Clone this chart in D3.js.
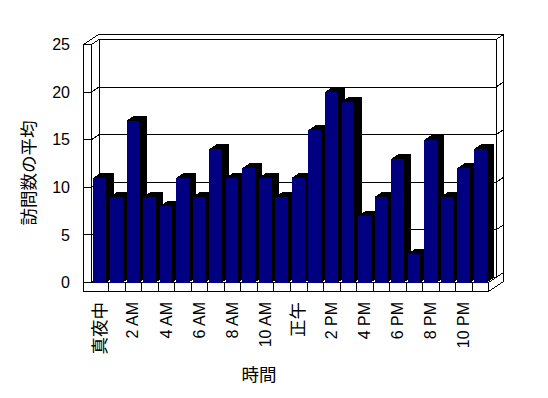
<!DOCTYPE html>
<html>
<head>
<meta charset="utf-8">
<script src="https://cdn.jsdelivr.net/npm/d3@7"></script>
<style>
  body { margin: 0; background: #fff; }
  svg { display: block; }
</style>
</head>
<body>
<div id="chart"></div>
<script>
// data
const categories = [
  "真夜中", "1 AM", "2 AM", "3 AM", "4 AM", "5 AM", "6 AM", "7 AM", "8 AM", "9 AM", "10 AM", "11 AM",
  "正午", "1 PM", "2 PM", "3 PM", "4 PM", "5 PM", "6 PM", "7 PM", "8 PM", "9 PM", "10 PM", "11 PM"
];
const visits = [11, 9, 17, 9, 8, 11, 9, 14, 11, 12, 11, 9, 11, 16, 20, 19, 7, 9, 13, 3, 15, 9, 12, 14];
const yTicks = [0, 5, 10, 15, 20, 25];
const xTitle = "時間";
const yTitle = "訪問数の平均";

// layout
const width = 548;
const height = 398;
const wallL = 83.5;    // outer edge of left wall
const plotL = 91.5;    // left edge of floor / category band
const plotR = 488.5;
const floorTop = 282.5;
const floorBot = 291.5;
const DX = 7.5;        // depth offset
const DY = -5;

const svg = d3.select("#chart")
  .append("svg")
  .attr("width", width)
  .attr("height", height)
  .style("background", "#fff");

const x = d3.scaleBand()
  .domain(categories)
  .range([plotL, plotR])
  .paddingInner(0.232)
  .paddingOuter(0.116);

const y = d3.scaleLinear()
  .domain([0, 25])
  .range([floorTop, 44.5]);

const yTop = y(25);
const line = d3.line();

function poly(pts, fill) {
  return svg.append("path")
    .attr("d", line(pts) + "Z")
    .attr("fill", fill)
    .attr("stroke", "#000")
    .attr("stroke-width", 1)
    .attr("shape-rendering", "crispEdges");
}

// =======================
// WALLS AND FLOOR
// =======================
// top face of left + back wall
poly([
  [wallL, yTop], [plotL, yTop], [plotL + DX, yTop + DY], [plotR + DX, yTop + DY],
  [plotR + 2 * DX, yTop + 2 * DY], [wallL + 2 * DX, yTop + 2 * DY]
], "#fff");

// back wall front face
poly([
  [plotL + DX, yTop + DY], [plotR + DX, yTop + DY],
  [plotR + DX, floorTop + DY], [plotL + DX, floorTop + DY]
], "#fff");

// right side of back wall and floor
poly([
  [plotR + DX, yTop + DY], [plotR + 2 * DX, yTop + 2 * DY], [plotR + 2 * DX, floorBot + 2 * DY],
  [plotR, floorBot], [plotR, floorTop], [plotR + DX, floorTop + DY]
], "#fff");

// gridlines on back wall
yTicks.forEach(v => {
  svg.append("path")
    .attr("d", line([
      [plotL + DX, y(v) + DY], [plotR + DX, y(v) + DY], [plotR + 2 * DX, y(v) + 2 * DY]
    ]))
    .attr("fill", "none")
    .attr("stroke", "#000")
    .attr("shape-rendering", "crispEdges");
});

// inner face of left wall
poly([
  [plotL, yTop], [plotL + DX, yTop + DY], [plotL + DX, floorTop + DY], [plotL, floorTop]
], "#fff");

// floor top
poly([
  [plotL, floorTop], [plotR, floorTop], [plotR + DX, floorTop + DY], [plotL + DX, floorTop + DY]
], "#fff");

// left wall front + floor front as one outline
poly([
  [wallL, yTop], [plotL, yTop], [plotL, floorTop], [plotR, floorTop],
  [plotR, floorBot], [wallL, floorBot]
], "#fff");

// tick marks across the left wall
yTicks.forEach(v => {
  svg.append("path")
    .attr("d", line([[wallL, y(v)], [plotL, y(v)], [plotL + DX, y(v) + DY]]))
    .attr("fill", "none")
    .attr("stroke", "#000")
    .attr("shape-rendering", "crispEdges");
});

// category dividers on the floor front
categories.slice(1).forEach((c, i) => {
  const xx = Math.round(plotL + (i + 1) * x.step()) + 0.5;
  svg.append("line")
    .attr("x1", xx).attr("x2", xx)
    .attr("y1", floorTop).attr("y2", floorBot)
    .attr("stroke", "#000")
    .attr("shape-rendering", "crispEdges");
});

// =======================
// BARS
// =======================
const bars = svg.append("g").attr("shape-rendering", "crispEdges");
categories.forEach((c, i) => {
  const x0 = x(c);
  const w = x.bandwidth();
  const yt = y(visits[i]);
  const g = bars.append("g");
  g.append("path")
    .attr("d", line([[x0 + w, yt], [x0 + w + DX, yt + DY], [x0 + w + DX, floorTop + DY], [x0 + w, floorTop]]) + "Z")
    .attr("fill", "#000");
  g.append("path")
    .attr("d", line([[x0, yt], [x0 + DX, yt + DY], [x0 + w + DX, yt + DY], [x0 + w, yt]]) + "Z")
    .attr("fill", "#000");
  g.append("rect")
    .attr("x", x0)
    .attr("y", yt)
    .attr("width", w)
    .attr("height", floorTop - yt)
    .attr("fill", "#000080");
});

// =======================
// AXES AND LABELS
// =======================
const fontFamily = "'Liberation Sans', 'Noto Sans CJK JP', sans-serif";

const yAxis = svg.append("g")
  .attr("transform", "translate(70,0)")
  .call(d3.axisLeft(y).tickValues(yTicks).tickSize(0).tickPadding(0));
yAxis.select(".domain").remove();
yAxis.selectAll("text")
  .attr("font-family", fontFamily)
  .attr("font-size", "16px")
  .attr("fill", "#000");

const xAxis = svg.append("g")
  .attr("transform", "translate(0,302)")
  .call(d3.axisBottom(x).tickValues(categories.filter((d, i) => i % 2 === 0)).tickSize(0));
xAxis.select(".domain").remove();
xAxis.selectAll("text")
  .attr("transform", "rotate(-90)")
  .attr("x", 0)
  .attr("y", 0)
  .attr("dy", "0.35em")
  .attr("text-anchor", "end")
  .attr("font-family", fontFamily)
  .attr("font-size", d => /[^\x00-\x7f]/.test(d) ? "17.5px" : "16px")
  .attr("fill", "#000");

svg.append("text")
  .attr("x", 259)
  .attr("y", 375)
  .attr("dy", "0.35em")
  .attr("text-anchor", "middle")
  .attr("font-family", fontFamily)
  .attr("font-size", "17.5px")
  .text(xTitle);

svg.append("text")
  .attr("transform", "translate(29,173) rotate(-90)")
  .attr("dy", "0.35em")
  .attr("text-anchor", "middle")
  .attr("font-family", fontFamily)
  .attr("font-size", "17.5px")
  .text(yTitle);
</script>
</body>
</html>
